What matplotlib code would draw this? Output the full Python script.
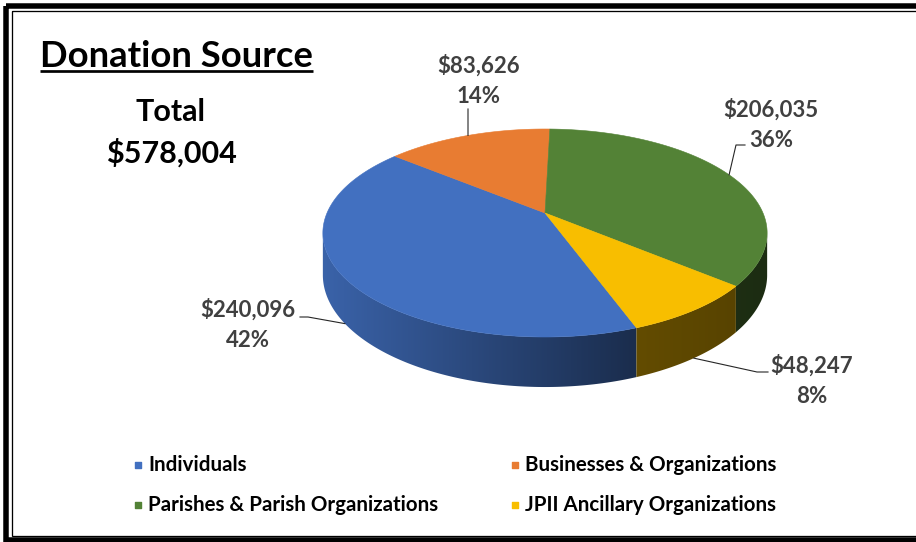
import numpy as np
import matplotlib
matplotlib.use("Agg")
import matplotlib.pyplot as plt
from matplotlib.patches import Polygon, Rectangle
from matplotlib.colors import to_rgb

plt.rcParams['font.family'] = ['Lato', 'DejaVu Sans']

# données
categories = ['Individuals', 'Businesses & Organizations',
              'Parishes & Parish Organizations', 'JPII Ancillary Organizations']
amounts = [240096, 83626, 206035, 48247]
colors = ['#4270C0', '#E87C32', '#538236', '#F8BE00']
total_label = 'Total'

# géométrie du camembert 3D (pixels)
CX, S = 545.0, 218.0
A, B, C = -59.2, 213.0, 0.1923
H = 40.4
START = -69.9  # angle du premier secteur, sens horaire

# positions des étiquettes (centre, ligne de base de la 1re ligne)
label_xy = [(248, 317), (479, 73), (771, 117), (812, 373)]
leader_knees = [[(308, 317), (300, 317)], [(468, 109)],
                [(736, 145), (745, 145)], [(757, 372), (768, 372)]]

W, HH = 916, 542


def proj(theta_deg, drop=0.0):
    t = np.radians(theta_deg)
    u, v = np.cos(t), np.sin(t)
    den = 1 + C * v
    return CX + S * u / den, (A * v + B + drop) / den


fig = plt.figure(figsize=(W / 100, HH / 100), dpi=100)
ax = fig.add_axes([0, 0, 1, 1])
ax.axis('off')

# cadre double
ax.add_patch(Rectangle((5.5, 5.5), 950, 534.5, fill=False, lw=5.5 * 0.72, ec='black'))
ax.add_patch(Rectangle((11.5, 10.5), 950, 525, fill=False, lw=1.3 * 0.72, ec='black'))

vals = np.array(amounts, dtype=float)
frac = vals / vals.sum()
ends = START - 360 * np.cumsum(frac)
starts = np.concatenate([[START], ends[:-1]])

vis_lo = -180 + np.degrees(np.arcsin(C))
vis_hi = -np.degrees(np.arcsin(C))

# parois latérales (dégradé horizontal découpé par le contour)
gx = np.linspace(318, 772, 400)
shade = np.interp(gx, [323, 636, 767], [0.88, 0.40, 0.34])
for i in range(len(vals)):
    a0, a1 = ends[i], starts[i]
    for shift in (0, 360, -360):
        lo, hi = max(a0 + shift, vis_lo), min(a1 + shift, vis_hi)
        if hi <= lo:
            continue
        th = np.linspace(lo, hi, 200)
        xt, yt = proj(th)
        xb, yb = proj(th[::-1], H)
        pts = list(zip(xt, yt)) + list(zip(xb, yb))
        base = np.array(to_rgb(colors[i]))
        img = (shade[:, None] * base[None, :])[None, :, :]
        clip = Polygon(pts, closed=True, transform=ax.transData)
        im = ax.imshow(img, extent=(318, 772, 400, 200), aspect='auto',
                       interpolation='bilinear', zorder=1)
        im.set_clip_path(clip)

# faces supérieures
for i in range(len(vals)):
    th = np.linspace(starts[i], ends[i], 200)
    xs, ys = proj(th)
    pts = [(CX, B)] + list(zip(xs, ys))
    ax.add_patch(Polygon(pts, closed=True, fc=colors[i], ec=colors[i], lw=0.4, zorder=2))

# étiquettes et lignes de rappel
for i in range(len(vals)):
    mid = (starts[i] + ends[i]) / 2
    m = (mid + 180) % 360 - 180
    front = vis_lo < m < vis_hi
    px, py = proj(m, H if front else 0.0)
    line = [(px, py)] + leader_knees[i]
    ax.plot([p[0] for p in line], [p[1] for p in line], color='#262626', lw=0.8, zorder=3)
    lx, ly = label_xy[i]
    pct = round(frac[i] * 100)
    ax.text(lx, ly, f'${amounts[i]:,}', ha='center', va='baseline', fontsize=16,
            fontweight='bold', color='#404040')
    ax.text(lx, ly + 30, f'{pct}%', ha='center', va='baseline', fontsize=16,
            fontweight='bold', color='#404040')

# titre souligné et total
title = ax.text(40, 67, 'Donation Source', ha='left', va='baseline', fontsize=26.2,
                fontweight='bold', color='black')
ax.text(170, 121, total_label, ha='center', va='baseline', fontsize=22,
        fontweight='bold', color='black')
ax.text(171, 163, f'${vals.sum():,.0f}', ha='center', va='baseline', fontsize=22,
        fontweight='bold', color='black')

# légende
for i, name in enumerate(categories):
    row, col = i // 2, i % 2
    mx = 138 + col * 377
    my = 465 + row * 40
    ax.scatter([mx], [my], marker='s', s=22, color=colors[i], zorder=3)
    ax.text(mx + 10, my + 6, name, ha='left', va='baseline', fontsize=14.8,
            fontweight='bold', color='black')

ax.set_xlim(0, W)
ax.set_ylim(HH, 0)

fig.canvas.draw()
bb = title.get_window_extent().transformed(ax.transData.inverted())
ax.plot([bb.x0, bb.x1], [70.7, 70.7], color='black', lw=2.7 * 0.72,
        solid_capstyle='butt')
ax.set_xlim(0, W)
ax.set_ylim(HH, 0)

fig.savefig('out.png', dpi=100)
